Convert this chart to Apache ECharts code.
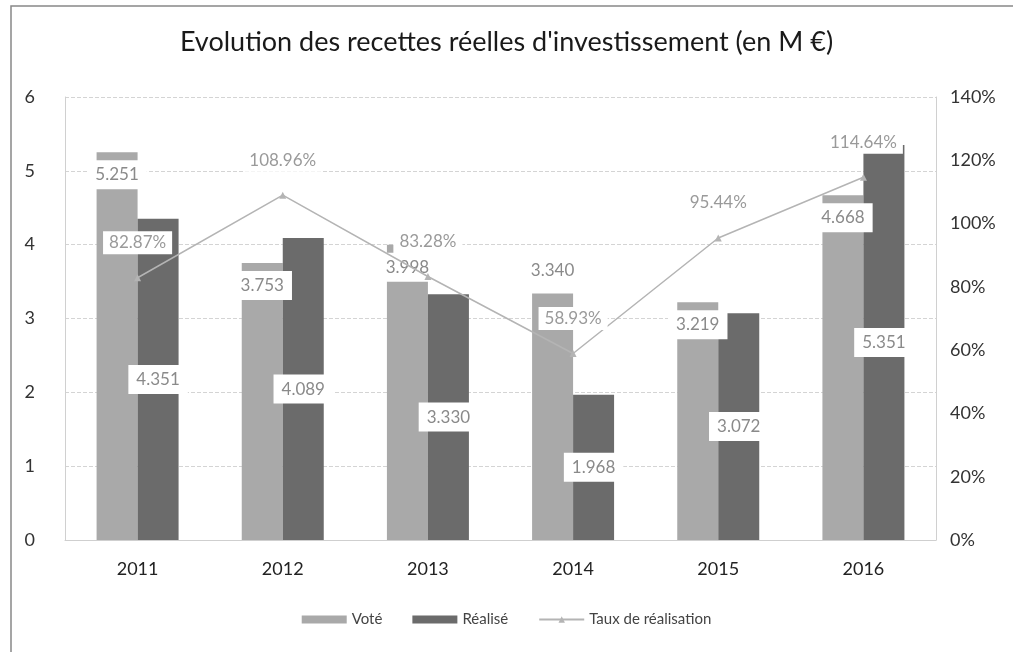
<!DOCTYPE html>
<html>
<head>
<meta charset="utf-8">
<script src="https://cdn.jsdelivr.net/npm/echarts@6/dist/echarts.min.js"></script>
<style>
  html, body { margin: 0; padding: 0; background: #fff; }
  #chart { width: 1013px; height: 652px; }
</style>
</head>
<body>
<div id="chart"></div>
<script>
// données
var annees = ['2011', '2012', '2013', '2014', '2015', '2016'];
var vote = [5.251, 3.753, 3.998, 3.340, 3.219, 4.668];
var realise = [4.351, 4.089, 3.330, 1.968, 3.072, 5.351];
var taux = [82.87, 108.96, 83.28, 58.93, 95.44, 114.64];

var chart = echarts.init(document.getElementById('chart'));
var fontFam = 'Lato, "Open Sans", sans-serif';
var gridColor = '#d4d4d4';

var labelBox = {
  show: true,
  color: '#8a8a8a',
  fontSize: 17,
  fontFamily: fontFam,
  backgroundColor: '#fff',
  padding: [6, 8]
};

// 2014 : étiquette du voté au-dessus de la barre
var voteData = vote.map(function (v, i) {
  return i === 3 ? { value: v, label: { position: 'top', distance: 8 } } : v;
});

var option = {
  backgroundColor: '#fff',
  title: {
    text: "Evolution des recettes réelles d'investissement (en M €)",
    left: 'center',
    top: 24,
    textStyle: {
      fontFamily: fontFam,
      fontSize: 27,
      fontWeight: 'normal',
      color: '#1a1a1a'
    }
  },
  graphic: [{
    type: 'rect',
    shape: { x: 11, y: 6, width: 1010, height: 660 },
    style: { fill: 'none', stroke: '#888', lineWidth: 1.5 },
    silent: true
  }],
  grid: {
    left: 65,
    right: 77,
    top: 97,
    bottom: 112
  },
  legend: {
    bottom: 20,
    left: 'center',
    itemGap: 30,
    itemWidth: 45,
    itemHeight: 8,
    textStyle: { fontFamily: fontFam, fontSize: 15, color: '#444' },
    data: [
      { name: 'Voté', icon: 'rect' },
      { name: 'Réalisé', icon: 'rect' },
      { name: 'Taux de réalisation' }
    ]
  },
  xAxis: {
    type: 'category',
    data: annees,
    axisTick: { show: false },
    axisLine: { lineStyle: { color: '#cfcfcf' } },
    axisLabel: { fontFamily: fontFam, fontSize: 18, color: '#222', margin: 20 }
  },
  yAxis: [
    {
      type: 'value',
      min: 0,
      max: 6,
      interval: 1,
      axisLine: { show: true, lineStyle: { color: '#d0d0d0' } },
      axisLabel: { fontFamily: fontFam, fontSize: 18, color: '#333', margin: 30 },
      splitLine: { lineStyle: { color: gridColor, type: 'dashed' } }
    },
    {
      type: 'value',
      min: 0,
      max: 140,
      interval: 20,
      axisLine: { show: true, lineStyle: { color: '#d0d0d0' } },
      axisLabel: { formatter: '{value}%', fontFamily: fontFam, fontSize: 18, color: '#333', margin: 14 },
      splitLine: { show: false }
    }
  ],
  series: [
    {
      name: 'Voté',
      type: 'bar',
      data: voteData,
      barWidth: 41,
      barGap: '0%',
      itemStyle: { color: '#a9a9a9' },
      label: Object.assign({}, labelBox, {
        position: 'insideTop',
        distance: 8,
        formatter: function (p) { return p.value.toFixed(3); }
      })
    },
    {
      name: 'Réalisé',
      type: 'bar',
      data: realise,
      barWidth: 41,
      itemStyle: { color: '#6b6b6b' },
      label: Object.assign({}, labelBox, {
        position: 'inside',
        formatter: function (p) { return p.value.toFixed(3); }
      })
    },
    {
      name: 'Taux de réalisation',
      type: 'line',
      yAxisIndex: 1,
      data: taux,
      symbol: 'triangle',
      symbolSize: 7,
      lineStyle: { color: '#b4b4b4', width: 1.5 },
      itemStyle: { color: '#b4b4b4' },
      label: Object.assign({}, labelBox, {
        position: 'top',
        distance: 20,
        padding: [3, 6],
        color: '#9a9a9a',
        formatter: function (p) { return p.value.toFixed(2) + '%'; }
      }),
      z: 5
    }
  ]
};

chart.setOption(option);
</script>
</body>
</html>
